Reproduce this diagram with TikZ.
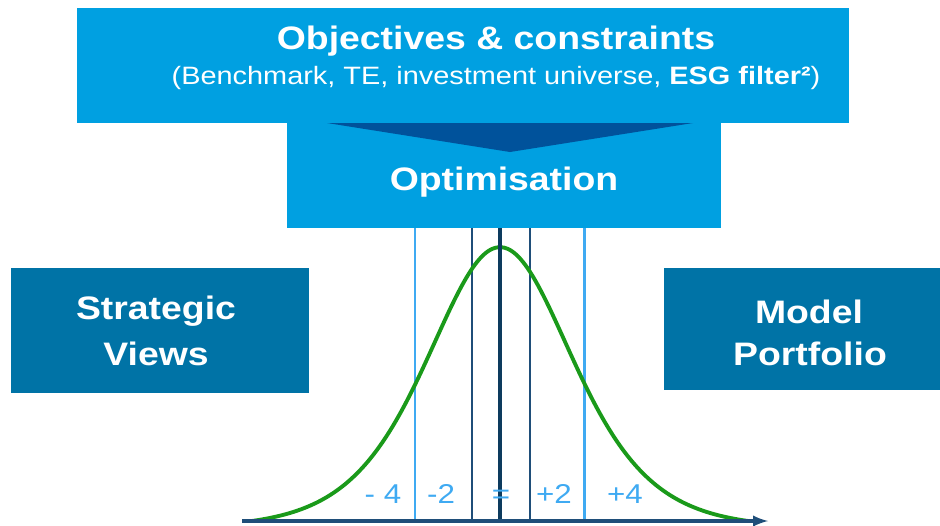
\documentclass[tikz,border=0pt]{standalone}
\usepackage{fontspec}
\setmainfont{Liberation Sans}[FakeStretch=1.15]
\usepackage{tikz}
\usetikzlibrary{positioning}

\definecolor{skyblue}{HTML}{00A0E1}
\definecolor{deepblue}{HTML}{00529B}
\definecolor{petrol}{HTML}{0073A6}
\definecolor{navy}{HTML}{1F4E79}
\definecolor{darkaxis}{HTML}{0D3B5E}
\definecolor{lineblue}{HTML}{3FAAF2}
\definecolor{bellgreen}{HTML}{1A9A1A}

\begin{document}
\begin{tikzpicture}[x=0.02cm, y=-0.02cm,
    title/.style={text=white, font=\fontsize{18.5}{26}\selectfont\bfseries, anchor=base, inner sep=0pt},
    sub/.style={text=white, font=\fontsize{14.3}{18}\selectfont, anchor=base, inner sep=0pt},
    band/.style={text=lineblue, font=\fontsize{15.5}{18}\selectfont, anchor=base, inner sep=0pt}]
      \useasboundingbox (0,0) rectangle (940,525);
      % boxes
      \fill[skyblue] (77,8) rectangle (849,123);
      \fill[skyblue] (287,123) rectangle (721,228);
      \fill[deepblue] (327,123) -- (693,123) -- (510,152) -- cycle;
      \fill[petrol] (11,268) rectangle (309,393);
      \fill[petrol] (664,268) rectangle (940,390);
      \node[title] (objectives) at (496,49) {Objectives \& constraints};
      \node[sub] (constraints) at (496,84) {(Benchmark, TE, investment universe, \textbf{ESG filter²})};
      \node[title] (optimisation) at (504,190) {Optimisation};
      \node[title] (strategic) at (156,319) {Strategic};
      \node[title] (views) at (156,365) {Views};
      \node[title] (model) at (809,323) {Model};
      \node[title] (portfolio) at (810,365) {Portfolio};
      % tracking error bands
      \draw[lineblue, line width=1.7pt] (415,228) -- (415,520);
      \draw[lineblue, line width=1.7pt] (584,228) -- (584,520);
      \draw[navy, line width=1.3pt] (472,228) -- (472,520);
      \draw[navy, line width=1.3pt] (530,228) -- (530,520);
      \draw[bellgreen, line width=2.2pt] plot[domain=252:748, samples=121, smooth]
            (\x, {521-281*(1/(cosh((\x-500)/98))^2-0.025)});
      \draw[darkaxis, line width=2.8pt] (500,228) -- (500,520);
      \draw[navy, line width=1.9pt, -latex] (242,521) -- (768,521);
      \node[band] (minusfour) at (383,503) {- 4};
      \node[band] (minustwo) at (441,503) {-2};
      \node[band] (equal) at (501,503) {=};
      \node[band] (plustwo) at (554,503) {+2};
      \node[band] (plusfour) at (625,503) {+4};
    \end{tikzpicture}
\end{document}
